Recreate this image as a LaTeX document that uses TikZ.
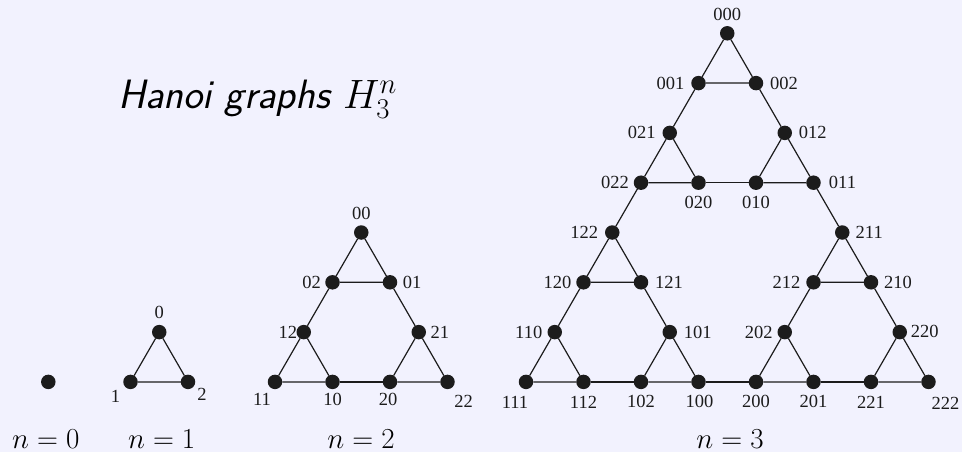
\RequirePackage{fix-cm}
\documentclass[tikz,border=0pt]{standalone}
\usepackage{fontspec}
\newfontfamily\labfont{Liberation Serif}
\definecolor{bgcol}{RGB}{242,242,254}
\definecolor{inkcol}{RGB}{28,28,28}
\tikzset{
  dot/.style={circle, fill=inkcol, minimum size=14.5pt, inner sep=0pt, outer sep=0pt},
  lab/.style={inner sep=0pt, font=\fontsize{18.5}{20}\labfont, text=inkcol},
  edge/.style={draw=inkcol, line width=1.2pt},
  ntext/.style={inner sep=0pt, anchor=base, font=\fontsize{29}{34}\selectfont},
  ttl/.style={inner sep=0pt, anchor=base west, font=\fontsize{41}{48}\selectfont\sffamily\itshape}
}
\begin{document}
\begin{tikzpicture}[x=1pt, y=-1pt]
\fill[bgcol] (0,0) rectangle (962,452);
\useasboundingbox (0,0) rectangle (962,452);

\node[ttl] (title) at (118,108.3) {Hanoi graphs $H_3^n$};

% n = 0
\node[dot] (e) at (48.3,381.9) {};

% vertices with labels: name / x / y / dx / dy
\foreach \nm/\px/\py/\dx/\dy in {
  0/159.25/332.1/0/-20, 1/130.5/381.9/-15/14, 2/188/381.9/14/12,
  00/361.25/232.5/0/-19,
  02/332.5/282.3/-21/0, 01/390/282.3/22/0,
  12/303.75/332.1/-16/0, 21/418.75/332.1/21/0,
  11/275/381.9/-13/17, 10/332.5/381.9/0/18, 20/390/381.9/-2/18, 22/447.5/381.9/16/19,
  000/727.25/33.3/0/-19,
  001/698.5/83.1/-28/0, 002/756/83.1/28/0,
  021/669.75/132.9/-28/0, 012/784.75/132.9/28/0,
  022/641/182.7/-26/0, 020/698.5/182.7/0/20, 010/756/182.7/0/20, 011/813.5/182.7/29/0,
  122/612.25/232.5/-28/0, 211/842.25/232.5/27/0,
  120/583.5/282.3/-26/0, 121/641/282.3/28/0, 212/813.5/282.3/-27/0, 210/871/282.3/27/0,
  110/554.75/332.1/-26/0, 101/669.75/332.1/28/0, 202/784.75/332.1/-26/0, 220/899.75/332.1/25/-1,
  111/526/381.9/-11/20, 112/583.5/381.9/0/20, 102/641/381.9/0/20, 100/698.5/381.9/1/20,
  200/756/381.9/0/20, 201/813.5/381.9/0/20, 221/871/381.9/0/20, 222/928.5/381.9/17/21}
{
  \node[dot] (v\nm) at (\px,\py) {};
  \node[lab] (l\nm) at ([shift={(\dx,\dy)}]v\nm) {\nm};
}

% triangles
\foreach \a/\b/\c in {0/1/2,
  00/02/01, 12/11/10, 21/20/22,
  000/001/002, 021/022/020, 012/010/011,
  122/120/121, 211/212/210,
  110/111/112, 101/102/100, 202/200/201, 220/221/222}
{
  \draw[edge] (v\a) -- (v\b) -- (v\c) -- (v\a);
}

% bridges
\foreach \a/\b in {02/12, 01/21, 10/20,
  001/021, 002/012, 020/010,
  120/110, 121/101, 112/102,
  212/202, 210/220, 201/221,
  022/122, 011/211, 100/200}
{
  \draw[edge] (v\a) -- (v\b);
}

% captions
\node[ntext] (c0) at (45.8,448.5) {$n=0$};
\node[ntext] (c1) at (161.7,448.5) {$n=1$};
\node[ntext] (c2) at (361,448.5) {$n=2$};
\node[ntext] (c3) at (730,448.5) {$n=3$};
\end{tikzpicture}
\end{document}
